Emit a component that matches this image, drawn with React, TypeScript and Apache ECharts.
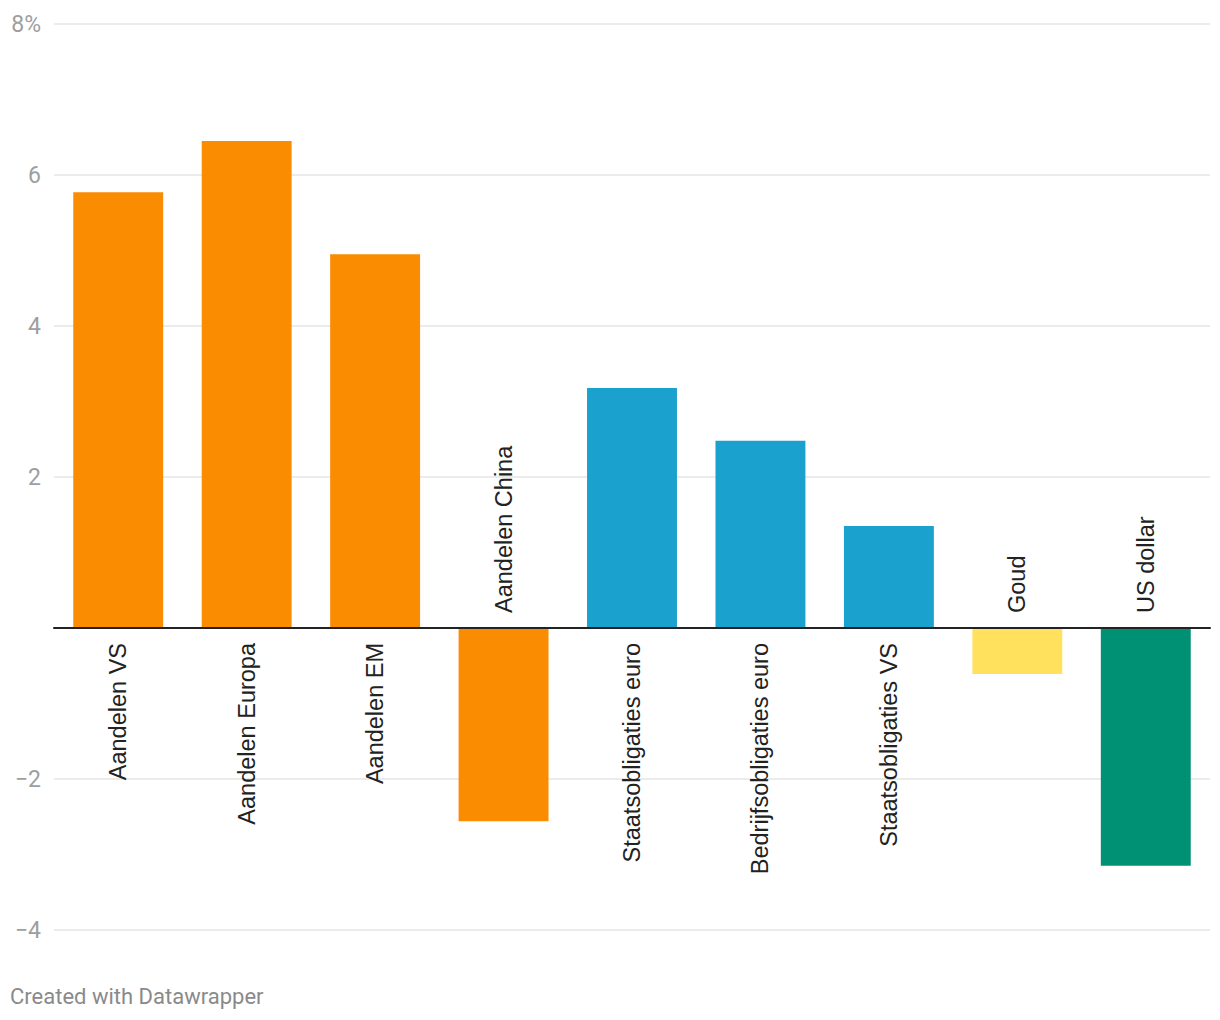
import React, { useEffect, useRef } from "react";
import * as echarts from "echarts";

const categories = [
  "Aandelen VS",
  "Aandelen Europa",
  "Aandelen EM",
  "Aandelen China",
  "Staatsobligaties euro",
  "Bedrijfsobligaties euro",
  "Staatsobligaties VS",
  "Goud",
  "US dollar",
];
const values = [5.77, 6.45, 4.95, -2.56, 3.18, 2.48, 1.35, -0.61, -3.15];
const barColors = [
  "#F98C00",
  "#F98C00",
  "#F98C00",
  "#F98C00",
  "#1AA1CE",
  "#1AA1CE",
  "#1AA1CE",
  "#FFE15E",
  "#009174",
];
const yMin = -4;
const yMax = 8;
const yStep = 2;
const footer = "Created with Datawrapper";

function tickLabel(v: number): string {
  if (v === 0) return "";
  if (v === yMax) return v + "%";
  return v < 0 ? "\u2212" + Math.abs(v) : String(v);
}

export default function App() {
  const ref = useRef<HTMLDivElement>(null);

  useEffect(() => {
    document.body.style.margin = "0";
    if (!ref.current) return;
    const chart = echarts.init(ref.current, undefined, { renderer: "svg" });

    const data = values.map((v, i) => ({
      value: v,
      itemStyle: { color: barColors[i] },
      label:
        v >= 0
          ? { position: "bottom", align: "right" }
          : { position: "top", align: "left" },
    }));

    chart.setOption({
      animation: false,
      backgroundColor: "#ffffff",
      grid: { left: 54, right: 10, top: 24, bottom: 90, containLabel: false },
      xAxis: {
        type: "category",
        data: categories,
        axisLine: { show: true, onZero: true, lineStyle: { color: "#222222", width: 2 } },
        axisTick: { show: false },
        axisLabel: { show: false },
        splitLine: { show: false },
        z: 10,
      },
      yAxis: {
        type: "value",
        min: yMin,
        max: yMax,
        interval: yStep,
        axisLine: { show: false },
        axisTick: { show: false },
        splitLine: { show: true, lineStyle: { color: "#e5e5e5", width: 1.5 } },
        axisLabel: {
          formatter: tickLabel,
          color: "#9e9e9e",
          fontFamily: "Roboto",
          fontSize: 23,
          margin: 13,
        },
      },
      series: [
        {
          type: "bar",
          data,
          barWidth: "70%",
          label: {
            show: true,
            formatter: (p: any) => categories[p.dataIndex],
            rotate: 90,
            verticalAlign: "middle",
            distance: 15,
            color: "#222222",
            fontFamily: "Liberation Sans",
            fontSize: 23.5,
          },
        },
      ],
      graphic: [
        {
          type: "text",
          left: 10,
          top: 985,
          style: {
            text: footer,
            fill: "#8a8a8a",
            font: "22px Roboto",
          },
        },
      ],
    });

    return () => {
      chart.dispose();
    };
  }, []);

  return <div ref={ref} style={{ width: 1220, height: 1020 }} />;
}
